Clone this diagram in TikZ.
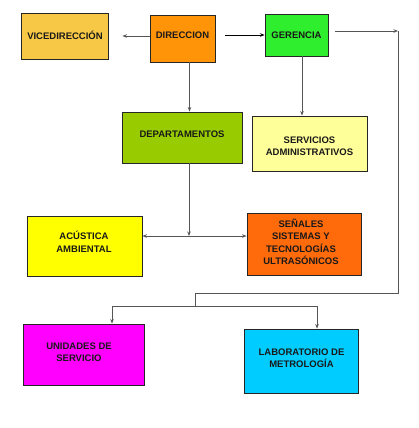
\documentclass[tikz,border=0pt]{standalone}
\usepackage{fontspec}
\setmainfont{Liberation Sans}
\usetikzlibrary{arrows.meta,calc}
\definecolor{cvice}{HTML}{F7C845}
\definecolor{cdir}{HTML}{FF9409}
\definecolor{cger}{HTML}{2EEE2E}
\definecolor{cdep}{HTML}{99CC00}
\definecolor{cserv}{HTML}{FFFF99}
\definecolor{caco}{HTML}{FFFF00}
\definecolor{csen}{HTML}{FF6A0A}
\definecolor{cuni}{HTML}{FF00FF}
\definecolor{clab}{HTML}{00CCFF}
\definecolor{cline}{HTML}{555555}
\tikzset{
  box/.style={draw=black!85, line width=0.9pt, inner sep=0pt},
  txt/.style={inner sep=0pt, align=center,
    font=\fontsize{9.5}{12.5}\selectfont\bfseries, text=black!90},
  conn/.style={draw=cline, line width=0.8pt},
  arr/.style={conn, -{Stealth[length=4.5pt,width=3.5pt]}},
  arrb/.style={conn, {Stealth[length=4.5pt,width=3.5pt]}-{Stealth[length=4.5pt,width=3.5pt]}},
}
\begin{document}
\begin{tikzpicture}[x=1pt,y=-1pt]
\useasboundingbox[fill=white] (0,0) rectangle (418,428);
% boxes: centre (x,y), size
\node[box, fill=cvice, minimum width=87pt, minimum height=46pt] (vice) at (64.5,36) {};
\node[box, fill=cdir, minimum width=65pt, minimum height=47pt] (dir) at (182.5,38.5) {};
\node[box, fill=cger, minimum width=63pt, minimum height=42pt] (ger) at (296.5,35) {};
\node[box, fill=cdep, minimum width=120pt, minimum height=51pt] (dep) at (182,137.5) {};
\node[box, fill=cserv, minimum width=115pt, minimum height=55pt] (serv) at (309.5,143.5) {};
\node[box, fill=caco, minimum width=115pt, minimum height=60pt] (aco) at (84.5,246) {};
\node[box, fill=csen, minimum width=114pt, minimum height=62pt] (sen) at (304,244) {};
\node[box, fill=cuni, minimum width=121pt, minimum height=61pt] (uni) at (83.5,354.5) {};
\node[box, fill=clab, minimum width=114pt, minimum height=64pt] (lab) at (301,361) {};
% texts
\node[txt] (vicet) at (65,35) {VICEDIRECCIÓN};
\node[txt] (dirt) at (182.5,35) {DIRECCION};
\node[txt] (gert) at (296.5,35) {GERENCIA};
\node[txt] (dept) at (182,134) {DEPARTAMENTOS};
\node[txt] (servt) at (309.5,146) {SERVICIOS\\ADMINISTRATIVOS};
\node[txt] (acot) at (84,242) {ACÚSTICA\\AMBIENTAL};
\node[txt] (sent) at (301,242) {SEÑALES\\SISTEMAS Y\\TECNOLOGÍAS\\ULTRASÓNICOS};
\node[txt] (unit) at (79,352) {UNIDADES DE\\SERVICIO};
\node[txt] (labt) at (301.5,358) {LABORATORIO DE\\METROLOGÍA};
% coordinates
\coordinate (c1) at (398,31);
\coordinate (c2) at (398,293);
\coordinate (j1) at (195,306);
\coordinate (ua) at (112,306);
\coordinate (la) at (317,306);
\coordinate (m) at (189,236);
% connectors
\draw[arr, shorten >=14pt] (vice.east -| dir.west) -- (vice.east);
\draw[arr, draw=black, shorten <=10pt] (dir.east |- ger.west) -- (ger.west);
\draw[arr, shorten <=7pt] (ger.east |- c1) -- (c1);
\draw[conn] (c1) -- (c2) -| (j1);
\draw[conn] (ua) -- (la);
\draw[arr] (ua) -- (ua |- uni.north);
\draw[arr] (la) -- (la |- lab.north);
\draw[arr] ([xshift=7pt]dir.south) -- ([xshift=7pt]dir.south |- dep.north);
\draw[arr] ([xshift=5.5pt]ger.south) -- ([xshift=5.5pt]ger.south |- serv.north);
\draw[arr] ([xshift=7pt]dep.south) -- (m);
\draw[arrb] (m -| aco.east) -- (m -| sen.west);
\end{tikzpicture}
\end{document}
